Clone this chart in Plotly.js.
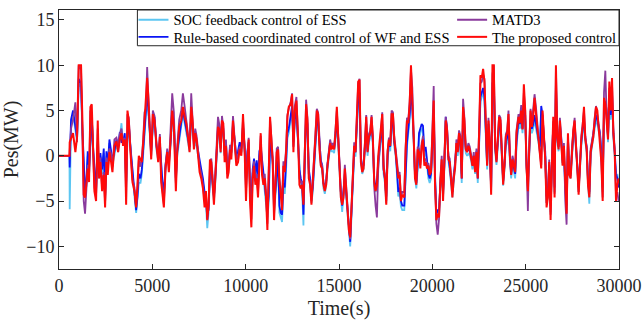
<!DOCTYPE html>
<html>
<head>
<meta charset="utf-8">
<script src="https://cdn.plot.ly/plotly-3.0.1.min.js"></script>
<style>html,body{margin:0;padding:0;background:#fff;}#chart{width:643px;height:325px;}</style>
</head>
<body>
<div id="chart"></div>
<script>
// Time (s)
const time = [
0,560,573,644,752,877,966,1056,1181,1253, 1324,1396,1467,1539,1610,1682,1754,1825,1897,1986,
2076,2147,2219,2308,2398,2469,2541,2612,2702,2791, 2863,2970,3077,3167,3256,3346,3435,3525,3596,3668,
3739,3829,3936,4043,4133,4205,4276,4366,4437,4509, 4580,4652,4723,4777,4848,4938,5027,5117,5224,5314,
5403,5475,5546,5618,5707,5797,5886,5976,6065,6155,
6261,6333,6440,6548,6637,6727,6816,6906,6995,7084, 7156,7228,7299,7371,7442,7532,7621,7711,7800,7872,
7943,8015,8086,8158,8229,8301,8372,8444,8516,8587, 8659,8730,8802,8873,8945,9017,9088,9160,9231,9321,
9410,9500,9589,9679,9768,9857,9947,10018,10090,10161, 10233,10305,10376,10448,10519,10591,10662,10734,10806,10877,
10949,11020,11092,11163,11235,11306,11378,11450,11521,11593, 11664,11736,11807,11879,11950,12022,12094,12165,12237,12308,
12415,12487,12558,12630,12719,12809,12880,12952,13024,13095, 13167,13238,13310,13381,13453,13524,13596,13667,13739,13811,
13882,13954,14025,14097,14168,14240,14312,14383,14455,14526, 14598,14669,14741,14813,14884,14956,15027,15099,15170,15242,
15313,15385,15457,15528,15600,15671,15743,15814,15886,15957, 16029,16101,16172,16244,16315,16387,16458,16530,16601,16673,
16745,16816,16888,16959,17031,17102,17174,17245,17317,17389, 17460,17532,17603,17675,17746,17818,17889,17961,18033,18104,
18176,18247,18319,18390,
18498,18570,18642,18713,18785,18856,18928,19000,19071,19143, 19214,19286,19357,19429,19500,19572,19643,19715,19787,19858,
19930,20001,20073,20144,20216,20288,20359,20431,20502,20574, 20645,20717,20788,20860,20931,21003,21075,21146,21218,21289,
21361,21432,21504,21575,21647,21719,21790,21862,21933,22005, 22076,22148,22220,22291,22363,22434,22506,22577,22649,22720,
22792,22863,22935,23007,23078,23150,23221,23293,23365,23436, 23508,23579,23651,23722,23794,23866,23937,24009,24080,24152,
24223,24295,24366,24438,24509,
24617,24689,24760,24832,24903,24975,25046,25118,25190,25261, 25333,25404,25476,25547,25619,25690,25762,25834,25905,25977,
26048,26120,26191,26263,26335,26406,26478,26549,26621,26692, 26764,26835,26907,26979,27050,27122,27193,27265,27336,27408,
27480,27551,27623,27694,27766,27837,27909,27980,28052,28124, 28195,28267,28338,28410,28481,28553,28625,28696,28768,28839,
28911,28982,29054,29125,29197,29268,29340,29411,29483,29555, 29626,29698,29770,29841,29913,29984
];

// SOC feedback control of ESS
const pesSOC = [
0,0,-5.9,3.5,4.6,3.0,1.6,8.0,7.6,2.5, -2.0,-4.5,-3.3,0.0,-2.0,1.2,4.0,0.6,-1.5,-4.3,
1.2,-2.5,-0.2,-2.0,0.3,-5.0,0.0,-1.5,1.4,0.1, -1.0,0.1,1.4,0.4,2.2,3.6,1.1,2.1,-3.5,1.9,
3.1,0.6,-2.5,-4.5,-6.3,-5.0,-3.0,-3.0,-2.0,0.1, 2.6,4.8,6.5,5.0,2.6,0.0,3.0,3.9,0.6,-0.5,
1.1,-2.0,-3.5,-4.7,-1.5,0.0,-1.0,1.1,4.0,3.4,
-3.0,0.0,1.6,3.1,4.6,3.6,2.6,1.6,0.5,4.0, 3.0,1.0,1.5,1.0,0.0,-1.0,-2.0,-3.0,-4.6,-5.2,
-8.0,-6.2,-2.6,-2.0,-3.5,-5.0,-3.0,0.0,2.6,2.8, 0.3,3.0,2.5,0.0,1.0,-2.0,-1.5,0.0,0.0,3.0,
1.0,-0.5,0.0,1.0,0.3,2.8,0.5,-3.6,0.0,1.0, -3.6,-5.6,-2.0,-0.8,-2.5,-1.0,-3.0,0.0,0.5,-1.0,
-2.0,-4.2,-5.8,-6.8,-5.2,1.0,0.3,-1.0,-6.2,-4.2, -2.6,-1.0,-6.3,-7.0,-7.3,-3.6,-4.2,-1.6,2.0,2.5,
4.0,5.0,1.0,3.5,4.5,1.5,-2.0,-3.2,-3.8,-7.7, 0.5,4.0,3.0,-2.0,-3.0,-5.2,-4.0,-1.5,1.0,3.5,
3.3,0.5,-1.0,-1.5,-3.6,-4.2,-3.3,-1.5,0.0,1.0, 0.5,0.5,0.3,1.5,3.3,1.5,-2.6,-4.6,-6.2,-4.6,
-2.6,-4.6,-6.6,-8.8,-10.0,-6.6,-3.6,0.0,0.0,3.0, 6.0,6.5,-0.5,-2.0,-1.5,0.5,3.0,0.0,1.5,2.0,
3.3,1.0,-3.0,-4.0,-3.6,-1.0,0.5,1.5,3.0,-2.0, -3.0,-5.2,-0.5,1.0,0.5,3.3,3.3,1.0,0.0,-2.0,
-4.5,-4.0,-5.6,-6.0,
-6.0,-2.5,1.0,2.5,4.0,6.5,5.0,1.5,-2.5,-3.6, -1.5,2.0,2.5,3.0,2.8,0.0,0.5,-1.5,-2.5,-3.0,
-2.5,0.5,4.5,-2.5,-7.2,-6.6,-6.6,-3.6,-1.5,-4.6, -1.5,3.8,2.5,-0.5,-1.5,-3.0,-4.6,-3.0,-1.5,0.5,
0.0,1.5,1.0,-3.0,3.5,2.5,0.3,0.0,0.3,0.0, -0.5,-1.5,-0.5,-2.0,0.0,-3.0,1.0,6.0,6.5,7.0,
6.0,1.0,-1.5,3.0,0.5,-4.0,7.5,8.0,0.5,-1.0, 1.0,3.0,3.0,0.0,-3.3,-1.5,1.0,1.5,3.0,-0.5,
-2.5,-1.0,-2.0,-2.5,1.0,
3.5,3.0,4.0,2.5,5.0,4.0,-1.5,-3.6,0.5,3.5, 2.5,3.0,4.0,3.0,2.5,1.5,0.5,5.0,4.0,1.5,
0.0,-5.2,-4.6,-1.5,-6.2,-1.0,3.0,-4.0,7.5,1.5, 0.5,3.0,1.5,-1.0,0.0,-4.0,-6.0,1.5,-2.0,-2.5,
0.0,2.0,3.0,0.0,-1.5,-4.0,-1.0,1.0,2.5,3.5, 1.5,0.5,-3.0,-5.3,0.0,1.0,1.5,3.0,4.0,3.5,
2.5,2.0,0.0,-4.0,4.5,5.5,4.5,1.5,6.0,4.0, 6.5,2.0,0.0,-2.5,-2.0,-3.0
];

// Rule-based coordinated control of WF and ESS
const pesRule = [
0,0,-1.3,4.0,5.0,3.5,2.0,8.5,8.0,3.0, -1.5,-4.0,-2.8,0.5,-1.5,1.5,4.5,1.0,-1.0,-3.8,
1.5,-2.0,0.3,-1.5,0.8,-4.5,0.5,-1.0,1.8,0.5, -0.5,0.5,1.8,0.8,2.6,1.5,1.5,2.5,-3.0,2.3,
3.5,1.0,-2.0,-4.0,-6.0,-4.5,-2.0,-2.5,-1.5,0.5, 3.0,5.2,7.0,5.5,3.0,0.5,3.5,4.3,1.0,0.0,
1.5,-1.5,-3.0,-4.2,-1.0,0.5,-0.5,1.5,4.5,3.8,
-2.5,0.5,2.0,3.5,5.0,4.0,3.0,2.0,1.0,4.5, 3.5,1.5,2.0,1.5,0.5,-0.5,-1.5,-2.5,-4.0,-4.5,
-7.0,-5.5,-2.0,-1.5,-3.0,-4.5,-2.5,0.5,3.0,3.2, 0.8,3.5,3.0,0.5,1.5,-1.5,-1.0,0.5,0.5,3.5,
1.5,0.0,0.5,1.5,0.8,3.3,1.0,-3.0,0.5,1.5, -3.0,-5.0,-1.5,-0.3,-2.0,-0.5,-2.5,0.5,1.0,-0.5,
-1.5,-3.5,-5.0,-6.0,-4.5,1.5,0.8,-0.5,-5.5,-3.5, -2.0,-0.5,-5.5,-6.3,-6.5,-3.0,-3.5,-1.0,2.5,3.0,
4.5,5.5,1.5,4.0,5.0,2.0,-1.5,-2.5,-3.0,-6.5, 1.0,4.5,3.5,-1.5,-2.5,-4.5,-3.5,-1.0,1.5,4.0,
3.8,1.0,-0.5,-1.0,-3.0,-3.5,-2.8,-1.0,0.5,1.5, 1.0,1.0,0.8,2.0,3.8,2.0,-2.0,-4.0,-5.5,-4.0,
-2.0,-4.0,-6.0,-8.0,-9.5,-6.0,-3.0,0.5,0.5,3.5, 6.5,7.0,0.0,-1.5,-1.0,1.0,3.5,0.5,2.0,2.5,
3.8,1.5,-2.5,-3.5,-3.0,-0.5,1.0,2.0,3.5,-1.5, -2.5,-4.5,0.0,1.5,1.0,3.8,3.8,1.5,0.5,-1.5,
-4.0,-3.5,-5.0,-5.5,
-5.5,-2.0,1.5,3.0,4.5,7.0,5.5,2.0,-2.0,-3.0, -1.0,2.5,3.0,3.5,3.3,0.5,1.0,-1.0,-2.0,-2.5,
-2.0,1.0,5.0,-2.0,-6.5,-6.0,-6.0,-3.0,-1.0,-4.0, -1.0,4.3,3.0,0.0,-1.0,-2.5,-4.0,-2.5,-1.0,1.0,
0.5,2.0,1.5,-2.5,4.0,3.0,0.8,0.5,0.8,0.5, 0.0,-1.0,0.0,-1.5,0.5,-2.5,1.5,6.5,7.0,7.5,
6.5,1.5,-1.0,3.5,1.0,-3.5,8.0,8.5,1.0,-0.5, 1.5,3.5,3.5,0.5,-2.8,-1.0,1.5,2.0,3.5,0.0,
-2.0,-0.5,-1.5,-2.0,1.5,
4.0,3.5,4.5,3.0,5.5,4.5,-1.0,-3.0,1.0,4.0, 3.0,3.5,4.5,3.5,3.0,2.0,1.0,5.5,4.5,2.0,
0.5,-4.5,-4.0,-1.0,-5.5,-0.5,3.5,-3.5,8.0,2.0, 1.0,3.5,2.0,-0.5,0.5,-3.5,-5.5,2.0,-1.5,-2.0,
0.5,2.5,3.5,0.5,-1.0,-3.5,-0.5,1.5,3.0,4.0, 2.0,1.0,-2.5,-4.0,0.5,1.5,2.0,3.5,4.5,4.0,
3.0,2.5,0.5,-3.5,5.0,6.0,5.0,2.0,6.5,4.5, 7.0,2.5,0.5,-2.0,-2.5,-3.5
];

// MATD3
const pesMATD3 = [
0,0,0.5,3.0,4.0,5.9,1.5,10,9.5,3.0, -5.0,-6.4,-3.5,-1.0,-2.5,5.0,4.5,1.0,-3.5,-4.5,
3.0,-2.0,-0.2,-3.5,-1.8,-5.2,-0.2,-1.5,0.8,0.2, -1.2,1.8,2.0,1.2,2.4,3.0,1.5,2.0,-4.8,4.6,
4.2,0.8,-2.6,-3.5,-5.5,-3.6,-0.5,-1.2,-0.2,1.8, 4.8,5.2,9.8,7.0,4.5,0.0,5.0,4.4,1.4,-0.2,
2.4,-2.4,-3.8,-5.3,-1.0,0.8,-1.2,3.0,6.9,4.8,
-3.0,1.0,4.0,5.0,6.9,5.5,4.0,2.5,1.0,6.9, 4.5,1.2,3.0,2.2,0.8,-1.2,-2.0,-3.2,-5.0,-4.2,
-6.2,-6.0,-1.2,-0.3,-2.2,-4.5,-2.0,2.0,4.3,3.5, 1.0,4.4,3.2,0.0,1.8,-2.0,-1.0,1.2,0.3,4.4,
2.2,-0.6,0.0,1.0,0.4,4.0,0.8,-4.0,-0.2,2.0, -4.2,-7.0,-2.0,-0.6,-2.8,-2.0,-4.0,-0.5,2.2,-1.5,
-2.8,-2.0,-4.0,-7.5,-0.2,4.0,2.0,-0.2,-6.5,-2.0, 0.8,1.0,-2.4,-3.8,-5.0,-0.6,-1.2,0.8,4.5,5.2,
6.0,6.9,1.0,5.5,6.5,2.2,-2.5,-3.0,-2.8,-5.0, 2.5,6.2,4.2,-2.0,-3.0,-5.0,-2.5,-0.2,2.5,5.2,
4.8,1.0,-0.8,-1.0,-3.0,-3.6,-3.0,-0.8,0.8,1.8, 1.0,1.4,1.0,2.8,5.0,2.4,-2.0,-4.0,-5.0,-4.2,
-1.0,-3.5,-5.0,-7.8,-9.2,-5.0,-2.0,1.5,0.8,4.2, 8.0,8.5,-0.4,-1.5,-1.0,1.5,4.5,0.8,2.4,2.8,
4.5,2.0,-3.5,-5.5,-6.8,-1.5,1.0,2.2,4.8,-1.0, -2.0,-5.0,0.6,2.0,1.4,5.0,4.8,2.2,0.8,-0.4,
-2.0,-1.8,-4.6,-4.0,
-4.0,1.0,4.2,4.0,6.0,9.5,7.5,2.5,-2.0,-2.8, 1.0,0.8,-1.0,1.4,2.2,-0.6,-0.3,-1.0,-0.8,-1.6,
-1.4,2.8,7.7,-2.5,-7.5,-8.7,-7.0,-2.5,0.0,-4.5, -0.3,4.3,3.2,0.0,-0.3,-2.0,-4.0,-2.0,-1.0,1.8,
0.8,2.8,2.2,-2.0,6.3,4.2,1.0,0.8,1.4,1.0, 0.0,-0.8,0.4,-1.4,0.8,-2.0,3.0,8.0,8.2,9.0,
8.5,2.5,-0.6,4.2,1.5,-3.8,9.0,10,1.5,-0.3, 2.5,4.5,4.2,0.8,-2.8,-0.8,2.4,2.8,5.0,0.4,
-1.8,0.0,-0.8,-1.4,2.8,
4.6,4.0,5.6,3.0,7.0,5.0,-2.5,-6.1,1.0,5.2, 3.6,5.0,6.8,5.5,3.6,2.0,0.3,-1.0,4.5,2.0,
-0.2,-5.2,-4.2,-0.4,-6.5,-1.0,3.8,-4.2,9.6,2.5, 1.0,4.2,2.2,-0.8,1.4,-5.0,-7.6,2.0,-2.0,-2.2,
1.0,3.2,4.2,0.8,-1.0,-4.0,-0.2,2.2,3.5,5.0, 2.2,1.0,-3.0,-4.2,0.8,1.8,2.5,4.2,5.5,4.5,
3.5,2.4,-0.4,-4.6,7.0,9.4,4.2,2.2,7.5,5.4, 8.0,3.0,0.8,-4.5,-4.0,-5.0
];

// The proposed control
const pesProposed = [
0,0,1.5,2.0,2.5,0.4,2.0,10,10,4.0, -4.3,-4.6,-2.5,-1.4,-2.9,5.4,5.7,0.4,-3.9,-5.0,
3.9,-2.5,-0.7,-3.9,-2.1,-5.7,-0.7,-2.1,0.4,-0.7, -1.8,1.1,1.6,0.4,1.8,2.5,1.1,1.8,-5.4,5.0,
3.9,0.4,-2.9,-3.9,-5.7,-3.2,0,-0.4,-0.7,1.4, 3.9,5.7,8.6,6.8,3.2,-0.4,4.6,3.9,1.1,-0.7,
2.1,-2.9,-4.3,-5.7,-1.4,0.4,-1.8,2.1,5.0,3.2,
-3.9,0.4,3.2,3.9,5.4,4.3,3.6,2.1,0.4,5.4, 3.9,0.7,2.5,1.8,0.4,-1.8,-2.5,-3.6,-5.7,-3.9,
-7.1,-5.4,-0.4,-0.7,-2.9,-5.4,-2.5,1.1,3.2,2.9, 0.4,3.9,3.6,-0.7,1.1,-2.5,-1.8,0.7,-0.4,3.9,
1.8,-1.1,-0.7,0.7,0,4.6,0.4,-5.0,-0.7,1.8, -5.0,-7.9,-2.5,-1.1,-3.2,-2.5,-4.6,-1.1,2.5,-2.1,
-3.2,-2.5,-4.6,-8.2,-0.7,4.3,1.8,-0.7,-7.1,-2.5, 0.4,0.7,-2.9,-4.3,-6.0,-1.1,-1.8,0.4,4.3,5.4,
5.7,6.8,0.4,5.0,6.1,1.8,-3.2,-3.6,-3.2,-5.4, 2.1,5.7,3.9,-2.5,-3.2,-5.4,-2.9,-0.7,2.1,5.0,
4.6,0.7,-1.1,-1.4,-3.2,-3.9,-3.2,-1.1,0.4,1.4, 0.7,1.1,0.7,2.5,5.4,2.1,-2.5,-4.6,-5.4,-4.6,
-1.4,-3.9,-5.4,-8.2,-9.0,-5.4,-2.5,1.1,0.4,3.9, 8.2,8.4,-0.7,-1.8,-1.4,1.1,4.3,0.4,2.1,2.5,
4.3,1.8,-2.9,-3.9,-3.2,0,1.4,2.5,4.6,-1.4, -2.5,-5.4,0.4,1.8,1.1,4.6,4.6,1.8,0.4,-0.7,
-2.5,-2.1,-5.0,-4.3,
-4.6,0.7,3.9,3.6,5.7,10,6.8,2.1,-2.5,-3.2, 0.7,0.4,-1.4,1.1,1.8,-1.1,-0.7,-1.4,-1.1,-2.1,
-1.8,2.1,6.1,-3.2,-7.1,-6.4,-6.8,-2.9,-0.4,-5.0, -0.7,3.9,2.9,-0.4,-0.7,-2.5,-4.6,-2.5,-1.4,1.4,
0.4,2.5,1.8,-2.5,5.4,3.9,0.7,0.4,1.1,0.7, -0.4,-1.1,0,-1.8,0.4,-2.5,2.5,8.9,8.6,9.6,
8.2,2.1,-1.1,3.9,1.1,-4.3,10,10,1.1,-0.7, 2.1,4.3,3.9,0.4,-3.2,-1.1,2.1,2.5,4.6,0,
-2.1,-0.4,-1.1,-1.8,2.5,
4.3,3.6,5.0,2.9,7.9,5.0,-1.4,-3.9,1.8,5.0, 3.2,4.3,6.4,4.3,3.2,1.8,0,-1.4,5.0,1.8,
-0.4,-5.7,-4.6,-0.7,-7.1,-1.1,4.3,-4.6,10,2.1, 0.7,3.9,1.8,-1.1,1.1,-3.9,-6.4,2.5,-2.1,-2.5,
0.7,2.9,3.9,0.4,-1.4,-4.3,-0.4,1.8,3.2,5.4, 1.8,0.7,-3.2,-4.6,0.4,1.4,2.1,3.9,5.4,5.0,
3.2,2.1,-0.7,-5.0,6.4,5.7,3.9,1.8,8.2,5.0, 8.6,2.5,0.4,-5.0,-3.2,-2.5
];

const seriesNames = ['SOC feedback control of ESS', 'Rule-based coordinated control of WF and ESS', 'MATD3', 'The proposed control'];
const seriesColors = ['#5cc6f2', '#0a14f5', '#8a3a9c', '#ff0a0a'];
const seriesWidths = [1.8, 1.8, 1.8, 2];
const seriesLegends = ['legend', 'legend2', 'legend3', 'legend4'];
const seriesData = [pesSOC, pesRule, pesMATD3, pesProposed];
const xTickVals = [0, 5000, 10000, 15000, 20000, 25000, 30000];
const xTickText = ['0', '5000', '10000', '15000', '20000', '25000', '30000'];
const yTickVals = [-10, -5, 0, 5, 10, 15];

const font = 'Liberation Serif';
const ink = '#262626';
const traces = seriesData.map((y, i) => ({
  x: time, y: y, type: 'scatter', mode: 'lines',
  name: seriesNames[i], legend: seriesLegends[i],
  line: {color: seriesColors[i], width: seriesWidths[i]}
}));

function axisBase() {
  return {
    showline: true, mirror: 'ticks', linecolor: ink, linewidth: 1,
    ticks: 'inside', ticklen: 5, tickcolor: ink, tickwidth: 1,
    showgrid: false, zeroline: false,
    tickfont: {family: font, size: 18, color: ink}
  };
}
function legendAt(x, y) {
  return {
    x: x, xanchor: 'left', y: y, yanchor: 'middle',
    bgcolor: 'rgba(0,0,0,0)', borderwidth: 0,
    font: {family: font, size: 14.5, color: '#000'},
    itemwidth: 30
  };
}

const layout = {
  width: 643, height: 325,
  margin: {l: 59, r: 24, t: 4, b: 56},
  paper_bgcolor: '#fff', plot_bgcolor: '#fff',
  font: {family: font, size: 14.5, color: ink},
  xaxis: Object.assign(axisBase(), {
    range: [0, 30000], tickvals: xTickVals, ticktext: xTickText,
    title: {text: 'Time(s)', font: {family: font, size: 20, color: ink}, standoff: 6}
  }),
  yaxis: Object.assign(axisBase(), {
    range: [-12.5, 16.1], tickvals: yTickVals,
    title: {text: 'Pes(MW)', font: {family: font, size: 20, color: ink}, standoff: 2}
  }),
  legend: legendAt(0.133, 0.962),
  legend2: legendAt(0.133, 0.896),
  legend3: legendAt(0.702, 0.962),
  legend4: legendAt(0.702, 0.896),
  shapes: [{
    type: 'rect', xref: 'paper', yref: 'paper', layer: 'above',
    x0: 0.14, x1: 1, y0: 0.862, y1: 1,
    line: {color: ink, width: 1}, fillcolor: '#fff'
  }],
  showlegend: true
};

Plotly.newPlot('chart', traces, layout, {displayModeBar: false, staticPlot: true});
</script>
</body>
</html>
